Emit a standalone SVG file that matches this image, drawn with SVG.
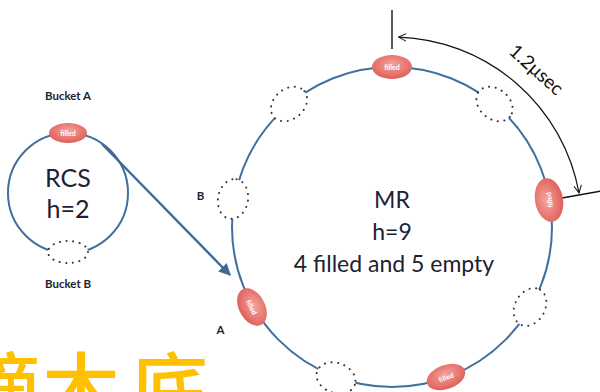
<svg xmlns="http://www.w3.org/2000/svg" width="600" height="392" viewBox="0 0 600 392">
<defs>
<radialGradient id="red" cx="50%" cy="40%" r="60%">
<stop offset="0" stop-color="#F5A49C"/>
<stop offset="1" stop-color="#DE5E58"/>
</radialGradient>
<marker id="ab" viewBox="0 0 10 10" refX="9" refY="5" markerWidth="5" markerHeight="5" orient="auto-start-reverse" markerUnits="strokeWidth">
<path d="M0,0 L10,5 L0,10 z" fill="#3E6A98"/>
</marker>
<marker id="av" viewBox="0 0 12 12" refX="11" refY="6" markerWidth="9" markerHeight="9" orient="auto-start-reverse" markerUnits="userSpaceOnUse">
<path d="M1,1 L11,6 L1,11" fill="none" stroke="#111" stroke-width="1.4"/>
</marker>
<style>
.ring{fill:none;stroke:#41709E;stroke-width:2}
.empty{fill:#fff;stroke:#333;stroke-width:2;stroke-dasharray:0.1 6.5;stroke-linecap:round}
.full{fill:url(#red)}
.ft{font-family:Lato,"Open Sans",sans-serif;font-size:7px;font-weight:bold;fill:#fff;text-anchor:middle;dominant-baseline:central}
.big{font-family:Lato,"Open Sans",sans-serif;fill:#1C2233;text-anchor:middle}
.sm{font-family:Lato,"Liberation Sans",sans-serif;font-size:11.5px;font-weight:bold;fill:#1C2233;text-anchor:middle}
</style>
</defs>
<rect width="600" height="392" fill="#fff"/>

<g id="connectors">
<circle class="ring" cx="68" cy="193" r="60"/>
<circle class="ring" cx="392" cy="227" r="160"/>
<line x1="102" y1="144" x2="230" y2="275" stroke="#3E6A98" stroke-width="2.4" marker-end="url(#ab)"/>
<line x1="392" y1="10" x2="392" y2="49" stroke="#111" stroke-width="1.4"/>
<line x1="562" y1="198" x2="601" y2="191" stroke="#111" stroke-width="1.4"/>
<path d="M398.6,37.1 A190,190 0 0 1 579,193" fill="none" stroke="#111" stroke-width="1.2" marker-start="url(#av)" marker-end="url(#av)"/>
</g>

<g id="rcs">
<text class="big" x="68" y="187" font-size="25">RCS</text>
<text class="big" x="68" y="218" font-size="25">h=2</text>
</g>
<g id="bucketA">
<text class="sm" x="68" y="100">Bucket A</text>
<ellipse class="full" cx="68" cy="133" rx="19" ry="10"/>
<text class="ft" x="68" y="133" font-size="6px">filled</text>
</g>
<g id="bucketB">
<ellipse class="empty" cx="68" cy="252" rx="20" ry="11"/>
<text class="sm" x="68" y="288">Bucket B</text>
</g>

<g id="mr">
<text class="big" x="392" y="208" font-size="23">MR</text>
<text class="big" x="392" y="240" font-size="23">h=9</text>
<text class="big" x="394" y="272" font-size="23">4 filled and 5 empty</text>
</g>

<g id="slot-top">
<ellipse class="full" cx="392" cy="67" rx="20" ry="12"/>
<text class="ft" x="392" y="67">filled</text>
</g>
<g id="slot-tr">
<ellipse class="empty" cx="494.5" cy="104" rx="20" ry="15" transform="rotate(40 494.5 104)"/>
</g>
<g id="slot-right">
<ellipse class="full" cx="549" cy="200" rx="22" ry="14" transform="rotate(-100 549 200)"/>
<text class="ft" x="549" y="200" transform="rotate(-100 549 200)">filled</text>
</g>
<g id="slot-lr">
<ellipse class="empty" cx="530" cy="307" rx="20" ry="15" transform="rotate(-60 530 307)"/>
</g>
<g id="slot-bottom-right">
<ellipse class="full" cx="446" cy="377" rx="20" ry="12" transform="rotate(-20 446 377)"/>
<text class="ft" x="446" y="377" transform="rotate(-20 446 377)">filled</text>
</g>
<g id="slot-bottom">
<ellipse class="empty" cx="336" cy="378" rx="20" ry="15" transform="rotate(20 336 378)"/>
</g>
<g id="slot-A">
<ellipse class="full" cx="252" cy="307" rx="20" ry="13" transform="rotate(62 252 307)"/>
<text class="ft" x="252" y="307" transform="rotate(62 252 307)">filled</text>
<text class="sm" x="220.5" y="334">A</text>
</g>
<g id="slot-B">
<ellipse class="empty" cx="233" cy="199" rx="20" ry="15" transform="rotate(-80 233 199)"/>
<text class="sm" x="200.5" y="200">B</text>
</g>
<g id="slot-tl">
<ellipse class="empty" cx="289" cy="104" rx="20" ry="15" transform="rotate(-40 289 104)"/>
</g>

<g id="dim-label">
<text x="537" y="69" font-family="Lato,'Open Sans',sans-serif" font-size="19" fill="#111" text-anchor="middle" dominant-baseline="central" transform="rotate(42 537 69)">1.2μsec</text>
</g>

<text x="-36" y="418" font-family="'Noto Sans CJK SC',sans-serif" font-size="78" font-weight="500" fill="#FFC000">滴<tspan x="42">木</tspan><tspan x="130">底</tspan></text>
</svg>
